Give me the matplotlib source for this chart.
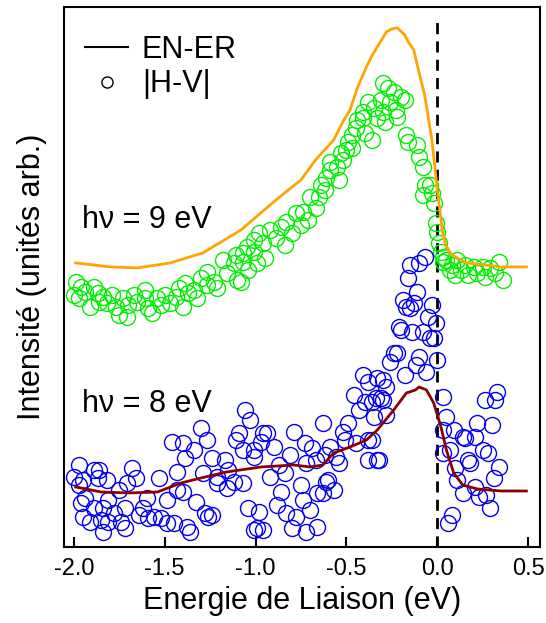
import numpy as np
import matplotlib
matplotlib.use('Agg')
import matplotlib.pyplot as plt
from matplotlib.lines import Line2D

plt.rcParams['font.family'] = ['Liberation Sans', 'DejaVu Sans']
plt.rcParams['axes.unicode_minus'] = False

# EN-ER spectra, energy in eV, intensity in arb. units
en9_e = [-1.99, -1.80, -1.65, -1.47, -1.29, -1.08, -0.92, -0.84, -0.75, -0.67, -0.57,
         -0.52, -0.48, -0.44, -0.39, -0.36, -0.33, -0.28, -0.25, -0.22, -0.18, -0.16,
         -0.13, -0.10, -0.07, -0.05, -0.03, 0.00, 0.03, 0.05, 0.08, 0.11, 0.16, 0.35, 0.49]
en9_i = [2.84, 2.80, 2.79, 2.84, 2.94, 3.17, 3.42, 3.54, 3.67, 3.87, 4.07,
         4.25, 4.37, 4.59, 4.80, 4.91, 5.00, 5.15, 5.18, 5.19, 5.12, 5.05,
         4.97, 4.74, 4.52, 4.30, 4.07, 3.57, 3.14, 3.00, 2.92, 2.89, 2.84, 2.80, 2.80]

en8_e = [-1.99, -1.85, -1.70, -1.54, -1.41, -1.30, -1.16, -0.97, -0.79, -0.70, -0.63,
         -0.57, -0.48, -0.39, -0.33, -0.24, -0.17, -0.12, -0.10, -0.06, -0.02, 0.02,
         0.05, 0.09, 0.14, 0.22, 0.35, 0.49]
en8_i = [0.60, 0.55, 0.54, 0.55, 0.64, 0.69, 0.75, 0.80, 0.82, 0.80, 0.82,
         0.94, 1.00, 1.07, 1.17, 1.37, 1.54, 1.57, 1.60, 1.57, 1.44, 1.20,
         0.97, 0.74, 0.62, 0.58, 0.56, 0.56]

# |H-V| points at hv = 9 eV
hv9_pts = np.array([
    [-1.99, 2.65], [-2.00, 2.52], [-1.96, 2.60], [-1.97, 2.49], [-1.94, 2.55], [-1.91, 2.40],
    [-1.89, 2.60], [-1.87, 2.54], [-1.86, 2.45], [-1.84, 2.50], [-1.82, 2.44], [-1.79, 2.52],
    [-1.77, 2.40], [-1.75, 2.32], [-1.73, 2.49], [-1.71, 2.30], [-1.70, 2.42], [-1.67, 2.52],
    [-1.65, 2.45], [-1.61, 2.57], [-1.61, 2.49], [-1.59, 2.39], [-1.57, 2.34], [-1.54, 2.49],
    [-1.52, 2.42], [-1.50, 2.52], [-1.47, 2.44], [-1.44, 2.50], [-1.42, 2.59], [-1.40, 2.40],
    [-1.39, 2.64], [-1.37, 2.54], [-1.34, 2.57], [-1.32, 2.49], [-1.30, 2.69], [-1.27, 2.75],
    [-1.27, 2.62], [-1.23, 2.65], [-1.21, 2.59], [-1.18, 2.87], [-1.16, 2.74], [-1.12, 2.84],
    [-1.10, 2.67], [-1.08, 2.65], [-1.07, 2.94], [-1.04, 2.77], [-1.01, 3.07], [-0.99, 2.84],
    [-1.11, 2.92], [-1.07, 2.85], [-1.05, 3.00], [-1.01, 2.95], [-0.98, 3.14], [-0.96, 3.04],
    [-0.95, 2.89], [-0.92, 3.17], [-0.89, 3.09], [-0.86, 3.20], [-0.84, 3.02], [-0.83, 3.25],
    [-0.80, 3.14], [-0.78, 3.34], [-0.75, 3.22], [-0.74, 3.35], [-0.71, 3.27], [-0.70, 3.50],
    [-0.67, 3.39], [-0.65, 3.50], [-0.64, 3.62], [-0.62, 3.57], [-0.61, 3.69], [-0.59, 3.77],
    [-0.59, 3.85], [-0.55, 3.80], [-0.54, 3.67], [-0.53, 3.94], [-0.52, 3.87], [-0.50, 3.97],
    [-0.49, 4.05], [-0.47, 4.12], [-0.47, 3.99], [-0.45, 4.19], [-0.44, 4.27], [-0.41, 4.35],
    [-0.41, 4.29], [-0.40, 4.14], [-0.38, 4.45], [-0.36, 4.07], [-0.35, 4.39], [-0.33, 4.29],
    [-0.31, 4.47], [-0.30, 4.64], [-0.30, 4.35], [-0.29, 4.25], [-0.27, 4.59], [-0.26, 4.45],
    [-0.24, 4.55], [-0.23, 4.37], [-0.22, 4.30], [-0.20, 4.50], [-0.18, 4.47], [-0.17, 4.12],
    [-0.16, 4.05], [-0.11, 4.02], [-0.10, 3.90], [-0.08, 3.80], [-0.07, 3.62], [-0.08, 3.52],
    [-0.04, 3.62], [-0.03, 3.54], [-0.02, 3.44], [-0.01, 3.24], [0.00, 3.15], [0.01, 3.04],
    [0.02, 2.95], [0.03, 2.90], [0.05, 2.87], [0.08, 2.82], [0.11, 2.87], [0.13, 2.77],
    [0.15, 2.82], [0.17, 2.72], [0.20, 2.80], [0.22, 2.74], [0.25, 2.80], [0.26, 2.70],
    [0.29, 2.79], [0.32, 2.74], [0.34, 2.85], [0.36, 2.67], [0.03, 2.85], [0.07, 2.77],
    [0.10, 2.72],
])

# |H-V| points at hv = 8 eV
hv8_pts = np.array([
    [-1.97, 0.82], [-2.00, 0.70], [-1.97, 0.62], [-1.95, 0.67], [-1.96, 0.44], [-1.94, 0.49],
    [-1.95, 0.30], [-1.91, 0.25], [-1.89, 0.77], [-1.87, 0.69], [-1.86, 0.77], [-1.89, 0.39],
    [-1.84, 0.39], [-1.85, 0.27], [-1.82, 0.67], [-1.81, 0.47], [-1.84, 0.15], [-1.81, 0.25],
    [-1.78, 0.34], [-1.75, 0.57], [-1.74, 0.25], [-1.72, 0.39], [-1.72, 0.19], [-1.71, 0.64],
    [-1.68, 0.79], [-1.66, 0.69], [-1.64, 0.32], [-1.62, 0.39], [-1.60, 0.49], [-1.59, 0.29],
    [-1.56, 0.30], [-1.53, 0.69], [-1.52, 0.29], [-1.49, 0.47], [-1.49, 0.24], [-1.46, 1.05],
    [-1.45, 0.24], [-1.43, 0.57], [-1.43, 0.75], [-1.40, 1.04], [-1.40, 0.55], [-1.39, 0.89],
    [-1.38, 0.20], [-1.36, 0.15], [-1.34, 0.97], [-1.33, 0.45], [-1.30, 1.19], [-1.29, 0.74],
    [-1.28, 0.34], [-1.27, 1.07], [-1.24, 0.89], [-1.26, 0.30], [-1.24, 0.32], [-1.21, 0.70],
    [-1.21, 0.64], [-1.17, 0.87], [-1.16, 0.59], [-1.15, 0.77], [-1.12, 0.65], [-1.11, 1.07],
    [-1.09, 1.14], [-1.07, 0.64], [-1.07, 0.97], [-1.06, 1.37], [-1.03, 1.27], [-1.04, 0.39],
    [-1.01, 0.90], [-0.99, 0.19], [-1.01, 0.97], [-0.97, 1.05], [-0.94, 1.14], [-0.90, 1.00],
    [-0.96, 1.14], [-0.92, 0.70], [-0.87, 0.82], [-0.84, 0.74], [-0.79, 1.15], [-0.81, 0.92],
    [-0.75, 0.62], [-0.73, 1.04], [-0.69, 0.99], [-0.72, 0.84], [-0.67, 0.87], [-0.63, 1.24],
    [-0.62, 0.92], [-0.59, 1.00], [-0.56, 0.90], [-0.60, 0.67], [-0.57, 0.57], [-0.86, 0.55],
    [-0.74, 0.47], [-0.70, 0.37], [-0.98, 0.35], [-0.88, 0.42], [-0.83, 0.34], [-0.78, 0.30],
    [-1.01, 0.17], [-0.96, 0.17], [-0.80, 0.19], [-0.72, 0.15], [-0.66, 0.20], [-0.66, 0.54],
    [-0.63, 0.54], [-0.61, 0.65], [-0.54, 0.84], [-0.52, 1.15], [-0.51, 1.07], [-0.49, 1.24],
    [-0.46, 1.52], [-0.43, 1.37], [-0.41, 1.72], [-0.40, 1.45], [-0.38, 1.65], [-0.36, 1.45],
    [-0.35, 1.30], [-0.34, 1.49], [-0.33, 1.69], [-0.31, 1.49], [-0.30, 1.67], [-0.28, 1.60],
    [-0.45, 1.04], [-0.38, 1.07], [-0.38, 0.87], [-0.33, 0.87], [-0.36, 1.07], [-0.28, 1.32],
    [-0.24, 1.94], [-0.22, 1.94], [-0.26, 1.85], [-0.21, 2.20], [-0.20, 2.17], [-0.18, 1.72],
    [-0.17, 2.40], [-0.19, 2.47], [-0.07, 2.90], [-0.10, 2.84], [-0.15, 2.82], [-0.16, 2.69],
    [-0.11, 2.55], [-0.15, 2.39], [-0.13, 2.44], [-0.03, 2.42], [-0.05, 2.30], [-0.01, 2.24],
    [-0.14, 2.15], [-0.08, 2.15], [-0.04, 2.09], [-0.02, 2.09], [-0.10, 1.90], [-0.12, 1.82],
    [-0.06, 1.75], [0.00, 1.87], [-0.30, 1.47], [0.03, 1.50], [0.05, 1.30], [0.03, 1.17],
    [0.09, 1.17], [0.14, 1.10], [0.15, 1.09], [0.21, 1.10], [0.22, 1.24], [0.30, 1.22],
    [0.26, 1.47], [0.32, 1.47], [0.33, 1.55], [0.07, 0.97], [0.03, 0.94], [0.25, 0.97],
    [0.28, 0.94], [0.10, 0.79], [0.17, 0.87], [0.18, 0.84], [0.34, 0.80], [0.31, 0.69],
    [0.11, 0.67], [0.14, 0.54], [0.21, 0.60], [0.23, 0.50], [0.27, 0.52], [0.29, 0.39],
    [0.08, 0.32], [0.06, 0.24], [-0.32, 0.87],
])

xticks = [-2.0, -1.5, -1.0, -0.5, 0.0, 0.5]

fig = plt.figure(figsize=(5.46, 6.23), dpi=100)
ax = fig.add_axes([0.117, 0.122, 0.872, 0.867])

ax.axvline(0.0, ymin=0, ymax=0.976, color='k', lw=2, dashes=(4, 2.6), zorder=1)

ax.plot(hv9_pts[:, 0], hv9_pts[:, 1], 'o', ms=11.5, mfc='none', mec='#00ee00', mew=1.0, zorder=2)
ax.plot(hv8_pts[:, 0], hv8_pts[:, 1], 'o', ms=11.5, mfc='none', mec='#0000ee', mew=1.0, zorder=2)
ax.plot(en9_e, en9_i, color='orange', lw=2, zorder=3)
ax.plot(en8_e, en8_i, color='darkred', lw=2, zorder=3)

ax.text(-1.955, 3.19, 'hν = 9 eV', fontsize=22, ha='left', va='baseline')
ax.text(-1.955, 1.35, 'hν = 8 eV', fontsize=22, ha='left', va='baseline')

handles = [Line2D([], [], color='k', lw=1.5),
           Line2D([], [], marker='o', ls='', ms=8, mfc='none', mec='k', mew=1.0)]
ax.legend(handles, ['EN-ER', '|H-V|'], loc='upper left', bbox_to_anchor=(0.045, 0.948),
          frameon=False, fontsize=22, handlelength=1.4, handletextpad=0.45,
          labelspacing=0.14, borderpad=0, borderaxespad=0)

ax.set_xlim(-2.055, 0.565)
ax.set_ylim(0, 5.40)
ax.set_xticks(xticks)
ax.set_xticklabels([f'{t:.1f}' for t in xticks])
ax.set_yticks([])
ax.tick_params(axis='x', direction='in', length=7, width=1.5, labelsize=17, pad=8)
for s in ax.spines.values():
    s.set_linewidth(1.5)

ax.set_xlabel('Energie de Liaison (eV)', fontsize=22, labelpad=4)
ax.set_ylabel('Intensité (unités arb.)', fontsize=22, labelpad=12)

fig.savefig('out.png', dpi=100)
